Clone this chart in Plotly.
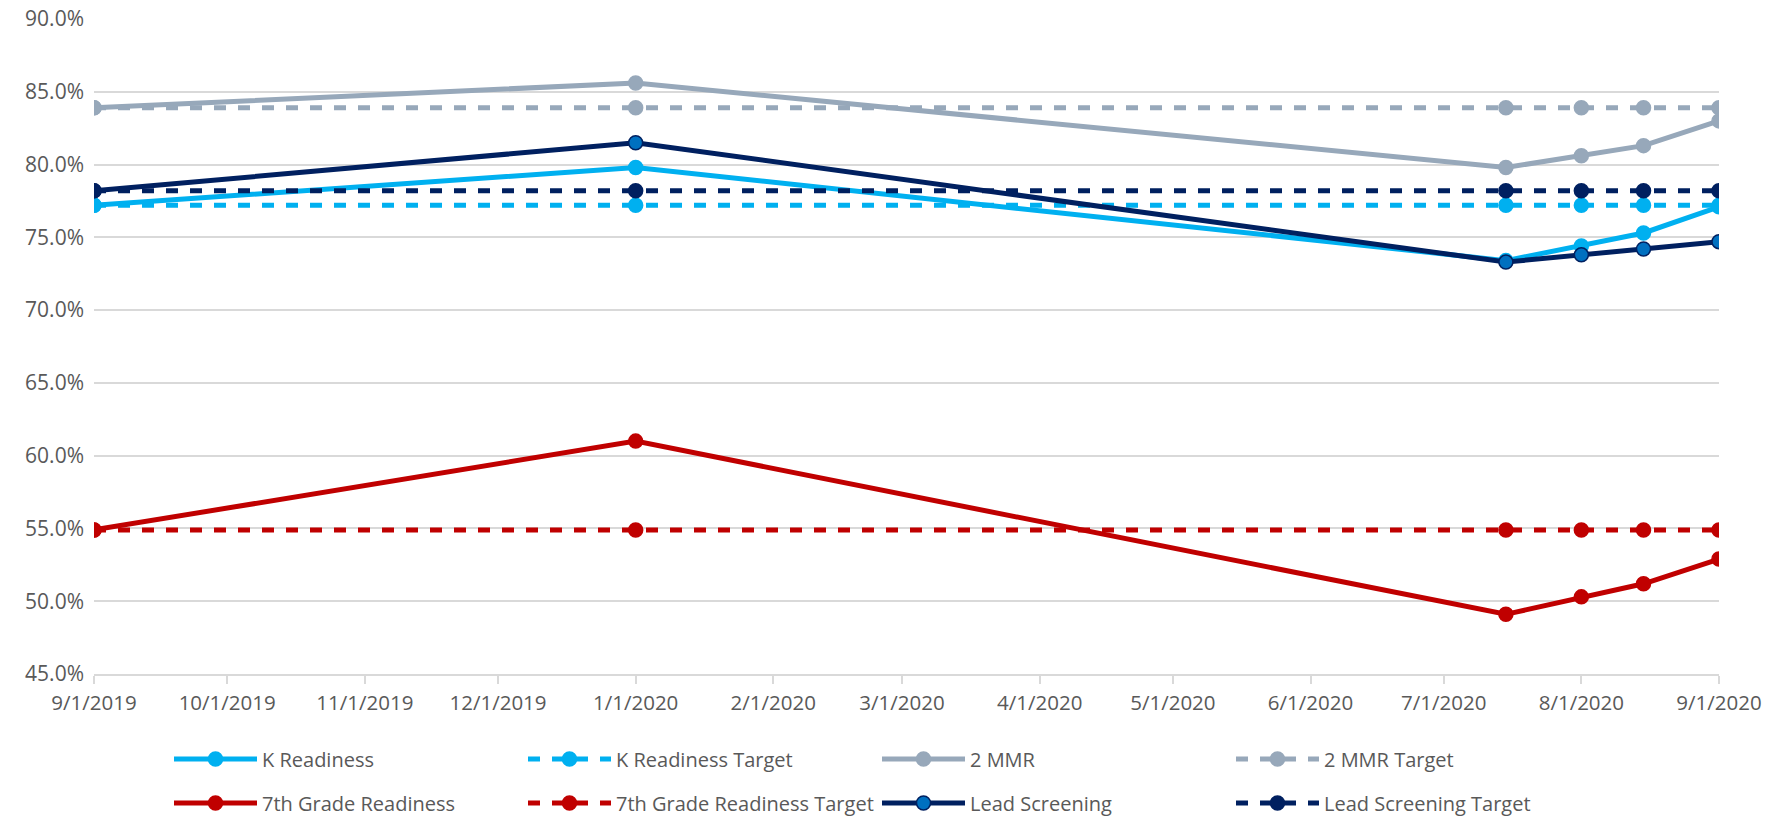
import plotly.graph_objects as go

dates = ["2019-09-01", "2020-01-01", "2020-07-15", "2020-08-01", "2020-08-15", "2020-09-01"]

k_readiness = [0.772, 0.798, 0.734, 0.744, 0.753, 0.771]
k_target = [0.772, 0.772, 0.772, 0.772, 0.772, 0.772]
mmr = [0.839, 0.856, 0.798, 0.806, 0.813, 0.830]
mmr_target = [0.839, 0.839, 0.839, 0.839, 0.839, 0.839]
g7 = [0.549, 0.610, 0.491, 0.503, 0.512, 0.529]
g7_target = [0.549, 0.549, 0.549, 0.549, 0.549, 0.549]
lead = [0.782, 0.815, 0.733, 0.738, 0.742, 0.747]
lead_target = [0.782, 0.782, 0.782, 0.782, 0.782, 0.782]

names = ["K Readiness", "K Readiness Target", "2 MMR", "2 MMR Target",
         "7th Grade Readiness", "7th Grade Readiness Target", "Lead Screening", "Lead Screening Target"]

C_K = "#00B0F0"
C_MMR = "#97A8BA"
C_7 = "#C00000"
C_LEAD = "#002060"
C_LEAD_FILL = "#0070C0"

series = [
    (names[0], k_readiness, C_K, "solid", C_K, C_K, "legend"),
    (names[1], k_target, C_K, "12px,12px", C_K, C_K, "legend"),
    (names[2], mmr, C_MMR, "solid", C_MMR, C_MMR, "legend"),
    (names[3], mmr_target, C_MMR, "12px,12px", C_MMR, C_MMR, "legend"),
    (names[4], g7, C_7, "solid", C_7, C_7, "legend2"),
    (names[5], g7_target, C_7, "12px,12px", C_7, C_7, "legend2"),
    (names[6], lead, C_LEAD, "solid", C_LEAD_FILL, C_LEAD, "legend2"),
    (names[7], lead_target, C_LEAD, "12px,12px", C_LEAD, C_LEAD, "legend2"),
]

fig = go.Figure()
for name, vals, col, dash, mfill, mline, lg in series:
    fig.add_trace(go.Scatter(
        x=dates, y=vals, name=name, mode="lines+markers",
        line=dict(color=col, width=5, dash=dash),
        marker=dict(size=14, color=mfill, line=dict(color=mline, width=1.5)),
        legend=lg, hoverinfo="skip",
    ))

# page body has an 8px default margin; figure offset accordingly
W, H = 1764, 808
FONT = "Open Sans, DejaVu Sans, sans-serif"
legend_common = dict(
    orientation="h", xref="container", yref="container", x=161 / W, xanchor="left", yanchor="middle",
    font=dict(family=FONT, size=20, color="#595959"),
    entrywidth=256, entrywidthmode="pixels", itemwidth=83, bgcolor="rgba(0,0,0,0)",
)

fig.update_layout(
    width=W, height=H,
    paper_bgcolor="white", plot_bgcolor="white",
    margin=dict(l=86, r=53, t=11, b=142, autoexpand=False),
    showlegend=True,
    legend=dict(**legend_common, y=1 - 751 / H),
    legend2=dict(**legend_common, y=1 - 795 / H),
    xaxis=dict(
        type="date", range=["2019-09-01", "2020-09-01"],
        tick0="2019-09-01", dtick="M1", tickformat="%-m/%-d/%Y",
        showgrid=False, showline=True, linecolor="#D9D9D9", linewidth=1.5,
        ticks="outside", ticklen=8, tickcolor="#D9D9D9", tickwidth=1.5,
        tickfont=dict(family=FONT, size=20.5, color="#595959"), zeroline=False, ticklabelstandoff=2,
        ticklabeloverflow="allow",
    ),
    yaxis=dict(
        range=[0.45, 0.90], dtick=0.05, tick0=0.45, tickformat=".1%",
        showgrid=True, gridcolor="#D9D9D9", gridwidth=1.5,
        showline=False, zeroline=False, ticks="",
        tickfont=dict(family=FONT, size=21, color="#595959"),
        ticklabelstandoff=9, ticklabeloverflow="allow",
    ),
)

fig.write_html("out.html", config={"displayModeBar": False})
